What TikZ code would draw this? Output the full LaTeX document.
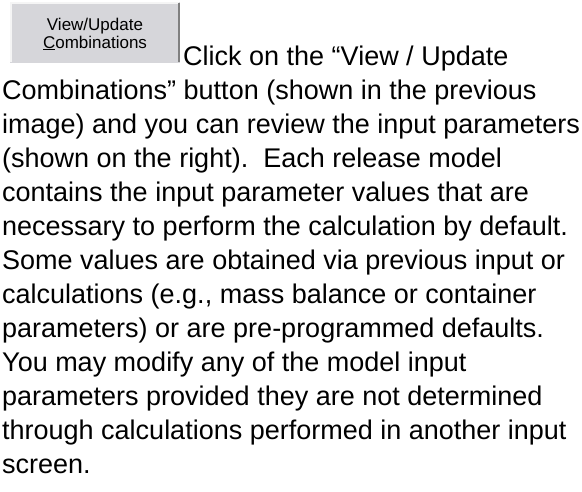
\documentclass[tikz,border=0pt]{standalone}
\usepackage{fontspec}
\setmainfont{Liberation Sans}
\definecolor{btnface}{RGB}{214,214,218}
\definecolor{btnshadow}{RGB}{128,128,128}
\definecolor{btnlight}{RGB}{245,245,245}
\begin{document}
\begin{tikzpicture}[x=1pt,y=-1pt,
  bodytext/.style={anchor=base west,inner sep=0pt,font=\fontsize{27}{30}\selectfont},
  btntext/.style={anchor=base,inner sep=0pt,font=\fontsize{17}{20}\selectfont}]
  \useasboundingbox[fill=white] (0,0) rectangle (582,491);
  % the push button
  \fill[btnface] (10,2) rectangle (180,63);
  \draw[btnlight,line width=1.5] (11,62) -- (11,3) -- (179,3);
  \draw[btnshadow,line width=2] (179,3) -- (179,62);
  \node[btntext] (b1) at (95,30) {View/Update};
  \node[btntext] (b2) at (95,48) {\underline{C}ombinations};
  % paragraph, one node per line
  \node[bodytext] (l1)  at (183,65)  {Click on the “View / Update};
  \node[bodytext] (l2)  at (2,99)    {Combinations” button (shown in the previous};
  \node[bodytext] (l3)  at (2,133)   {image) and you can review the input parameters};
  \node[bodytext] (l4)  at (2,167)   {(shown on the right).\ \ Each release model};
  \node[bodytext] (l5)  at (2,201)   {contains the input parameter values that are};
  \node[bodytext] (l6)  at (2,235)   {necessary to perform the calculation by default.};
  \node[bodytext] (l7)  at (2,269)   {Some values are obtained via previous input or};
  \node[bodytext] (l8)  at (2,303)   {calculations (e.g., mass balance or container};
  \node[bodytext] (l9)  at (2,337)   {parameters) or are pre-programmed defaults.};
  \node[bodytext] (l10) at (2,371)   {You may modify any of the model input};
  \node[bodytext] (l11) at (2,405)   {parameters provided they are not determined};
  \node[bodytext] (l12) at (2,439)   {through calculations performed in another input};
  \node[bodytext] (l13) at (2,473)   {screen.};
\end{tikzpicture}
\end{document}
